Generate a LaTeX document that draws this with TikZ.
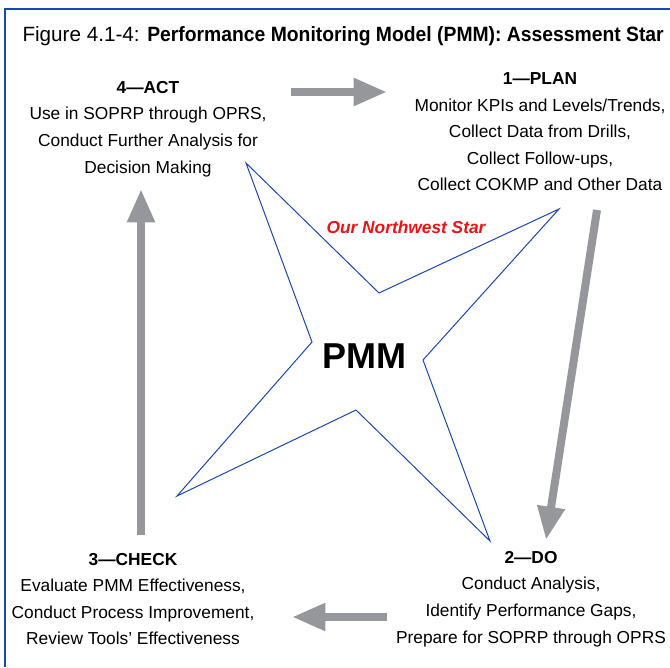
\documentclass[tikz,border=0pt]{standalone}
\usepackage{fontspec}
\setmainfont{Liberation Sans}
\newfontface\titlebold{Liberation Sans Bold}[FakeStretch=0.935]
\usetikzlibrary{arrows.meta}
\tikzset{every picture/.style={line width=0.75pt}}
\definecolor{frameblue}{RGB}{22,72,186}
\definecolor{starblue}{RGB}{25,70,175}
\definecolor{arrowgray}{RGB}{150,151,155}
\definecolor{starred}{RGB}{235,20,20}
\tikzset{
  bigarrow/.style={draw=arrowgray, line width=6pt, -{Triangle[length=25pt,width=19.5pt]}},
  stepbox/.style={align=center, font=\fontsize{13}{19.9}\selectfont, inner sep=0pt},
}

\begin{document}
\begin{tikzpicture}[x=0.75pt,y=0.75pt,yscale=-1,xscale=1]
\useasboundingbox (0,0) rectangle (670,667);

%Frame
\draw [frameblue, line width=1.5pt] (670,9) -- (5,9) -- (5,667) ;

% Text Node
\node (title) [anchor=west, font=\fontsize{15.5}{18}\selectfont, inner sep=0pt] at (22,36) {Figure 4.1-4: {\titlebold Performance Monitoring Model (PMM): Assessment Star}};

%Star
\draw [starblue] (246,163) -- (379,293) -- (559,209) -- (423,360) -- (490,541) -- (356,410) -- (177,496) -- (312,342) -- cycle ;

% Text Node
\node (pmm) [font=\fontsize{27}{30}\selectfont\bfseries, inner sep=0pt] at (364,356) {PMM};
% Text Node
\node (starname) [font=\fontsize{13}{16}\selectfont\bfseries\itshape, text=starred, inner sep=0pt] at (406,227) {Our Northwest Star};

% Text Node
\node (act) [stepbox] at (148,129) {\textbf{4---ACT}\\Use in SOPRP through OPRS,\\Conduct Further Analysis for\\Decision Making};
% Text Node
\node (plan) [stepbox] at (540,132) {\textbf{1---PLAN}\\Monitor KPIs and Levels/Trends,\\Collect Data from Drills,\\Collect Follow-ups,\\Collect COKMP and Other Data};
% Text Node
\node (dostep) [stepbox] at (531,599) {\textbf{2---DO}\\Conduct Analysis,\\Identify Performance Gaps,\\Prepare for SOPRP through OPRS};
% Text Node
\node (check) [stepbox] at (133,599) {\textbf{3---CHECK}\\Evaluate PMM Effectiveness,\\Conduct Process Improvement,\\Review Tools' Effectiveness};

%Arrow ends
\coordinate (topA) at (291,92);
\coordinate (topB) at (387,92);
\coordinate (rightA) at (597,210);
\coordinate (rightB) at (546,540);
\coordinate (bottomA) at (387,617);
\coordinate (bottomB) at (292,617);
\coordinate (leftA) at (141,535);
\coordinate (leftB) at (141,189);

%Block Arrows
\draw [bigarrow] (topA) -- (topB) ;
\draw [bigarrow] (rightA) -- (rightB) ;
\draw [bigarrow] (bottomA) -- (bottomB) ;
\draw [bigarrow] (leftA) -- (leftB) ;

\end{tikzpicture}
\end{document}
